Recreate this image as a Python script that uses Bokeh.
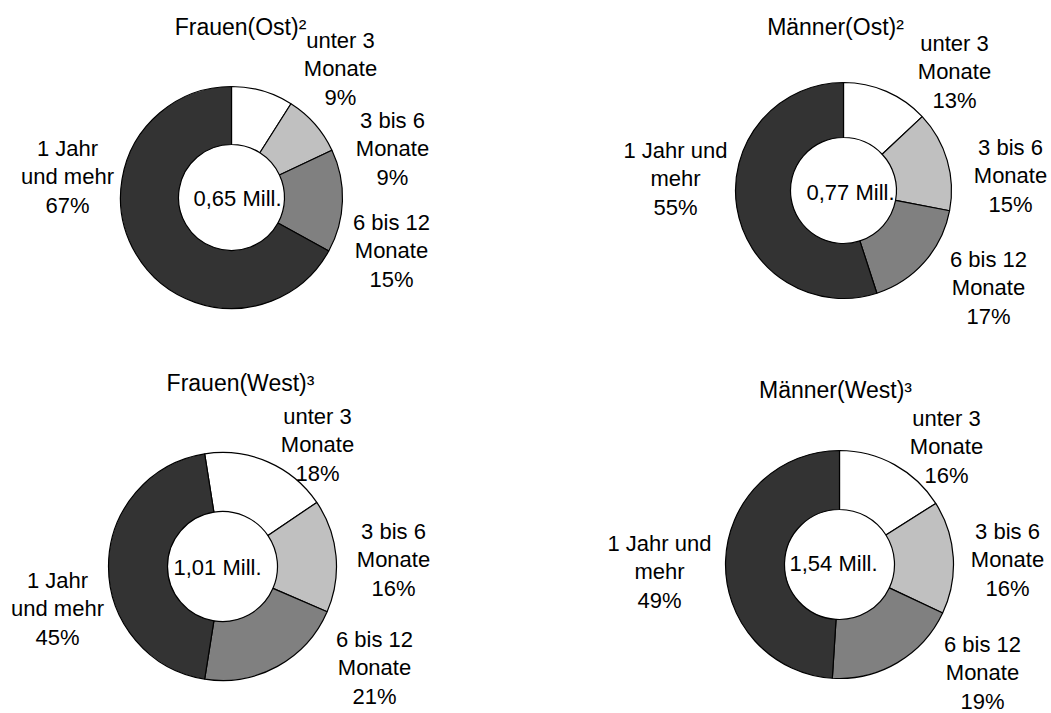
import numpy as np
from bokeh.plotting import figure
from bokeh.models import ColumnDataSource, Range1d
from bokeh.core.properties import value
from bokeh.embed import file_html
from bokeh.resources import INLINE

# ---- data ----
categories = ["unter 3 Monate", "3 bis 6 Monate", "6 bis 12 Monate", "1 Jahr und mehr"]
titles = ["Frauen(Ost)²", "Männer(Ost)²", "Frauen(West)³", "Männer(West)³"]
totals = ["0,65 Mill.", "0,77 Mill.", "1,01 Mill.", "1,54 Mill."]
frauen_ost = [9, 9, 15, 67]
maenner_ost = [13, 15, 17, 55]
frauen_west = [18, 16, 21, 45]
maenner_west = [16, 16, 19, 49]
series = [frauen_ost, maenner_ost, frauen_west, maenner_west]

# label wording (line breaks as in the original)
labels_a = ["unter 3\nMonate", "3 bis 6\nMonate", "6 bis 12\nMonate", "1 Jahr\nund mehr"]
labels_b = ["unter 3\nMonate", "3 bis 6\nMonate", "6 bis 12\nMonate", "1 Jahr und\nmehr"]
label_sets = [labels_a, labels_b, labels_a, labels_b]

# ---- styles / layout ----
colors = ["#FFFFFF", "#C0C0C0", "#808080", "#333333"]
W, H = 1051, 713
FONT = "Liberation Sans"
FS = "22px"

def px(x, y):
    return x, H - y

layout = [
    dict(c=(231, 197), ro=111, ri=53, start=0.0, title=(240, 26), total=(237, 198),
         lab=[(340, 68), (392, 148), (391, 250), (67, 176)]),
    dict(c=(843, 190), ro=108, ri=53, start=0.0, title=(835, 26), total=(850, 192),
         lab=[(954, 71), (1010, 175), (988, 287), (675, 178)]),
    dict(c=(222, 566), ro=114, ri=55, start=-9.0, title=(240, 382), total=(217, 567),
         lab=[(317, 444), (393, 559), (374, 667), (57, 608)]),
    dict(c=(839, 564), ro=114, ri=55, start=0.0, title=(835, 389), total=(833, 563),
         lab=[(946, 446), (1007, 559), (982, 672), (659, 571)]),
]

p = figure(width=W, height=H, x_range=Range1d(0, W), y_range=Range1d(0, H),
           output_backend="svg", toolbar_location=None, min_border=0,
           x_axis_location=None, y_axis_location=None)
p.grid.visible = False
p.outline_line_color = None
p.background_fill_color = "white"

for k, vals in enumerate(series):
    L = layout[k]
    cx, cy = px(*L["c"])
    v = np.array(vals, dtype=float)
    frac = v / v.sum()
    cum = np.concatenate([[0], np.cumsum(frac)])
    off = np.deg2rad(L["start"])
    starts = np.pi / 2 - off - 2 * np.pi * cum[:-1]
    ends = np.pi / 2 - off - 2 * np.pi * cum[1:]
    src = ColumnDataSource(dict(x=[cx] * 4, y=[cy] * 4, start=starts, end=ends,
                                color=colors, cat=categories))
    p.annular_wedge(x="x", y="y", inner_radius=L["ri"], outer_radius=L["ro"],
                    start_angle="start", end_angle="end", direction="clock",
                    fill_color="color", line_color="black", line_width=1.2, source=src)

    lx, ly, lt = [], [], []
    for i in range(4):
        x, y = px(*L["lab"][i])
        lx.append(x); ly.append(y)
        lt.append(f"{label_sets[k][i]}\n{vals[i]}%")
    p.text(x=lx, y=ly, text=lt, text_align="center", text_baseline="middle",
           text_font=value(FONT), text_font_size=FS, text_line_height=1.14,
           text_color="black")

    tx, ty = px(*L["title"])
    p.text(x=[tx], y=[ty], text=[titles[k]], text_align="center", text_baseline="middle",
           text_font=value(FONT), text_font_size="23px", text_color="black")
    mx, my = px(*L["total"])
    p.text(x=[mx], y=[my], text=[totals[k]], text_align="center", text_baseline="middle",
           text_font=value(FONT), text_font_size=FS, text_color="black")

open("out.html", "w").write(file_html(p, INLINE))
